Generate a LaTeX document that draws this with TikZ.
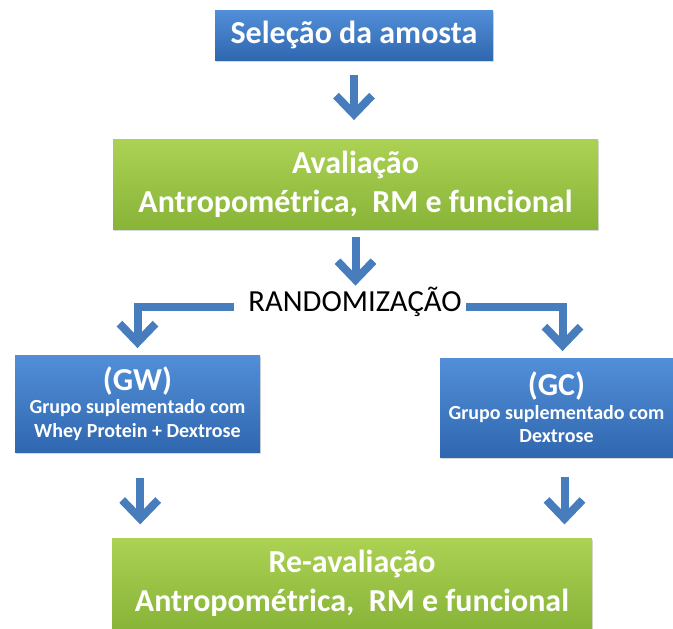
\documentclass[tikz,border=0pt]{standalone}
\usepackage{fontspec}
\setmainfont{Carlito}
\usetikzlibrary{arrows.meta,shadows}

\definecolor{azulclaro}{RGB}{82,143,216}
\definecolor{azulescuro}{RGB}{47,103,176}
\definecolor{verdeclaro}{RGB}{172,210,84}
\definecolor{verdeescuro}{RGB}{136,180,56}
\definecolor{azulseta}{RGB}{72,125,189}

\begin{document}
\begin{tikzpicture}[x=0.75pt, y=-0.75pt]
\tikzstyle{caixa} = [inner sep=0pt, align=center, text=white, font=\bfseries\fontsize{24}{29}\selectfont, drop shadow={opacity=.3, shadow xshift=1pt, shadow yshift=-1.5pt}]
\tikzstyle{azul} = [caixa, top color=azulclaro, bottom color=azulescuro]
\tikzstyle{verde} = [caixa, top color=verdeclaro, bottom color=verdeescuro]
\tikzstyle{grupo} = [azul, font=\bfseries\fontsize{15}{17.5}\selectfont]
\tikzstyle{seta} = [draw=azulseta, line width=6pt, line join=miter, -{Straight Barb[length=14pt, width=27pt]}]

\useasboundingbox (0,0) rectangle (673,628);

\node[azul, minimum width=208.5pt, minimum height=37.5pt] (sel) at (354,35) {Seleção da amosta};
\node[verde, minimum width=363.75pt, minimum height=67.5pt] (ava) at (355.5,184) {Avaliação\\Antropométrica,~~RM e funcional};
\node[inner sep=0pt, font=\fontsize{23}{28}\selectfont] (rand) at (355,302) {RANDOMIZAÇÃO};
\node[grupo, minimum width=183.75pt, minimum height=72.75pt] (gw) at (137.5,403.5) {{\fontsize{24}{30}\selectfont (GW)}\\Grupo suplementado com\\Whey Protein + Dextrose};
\node[grupo, minimum width=174.75pt, minimum height=74.25pt] (gc) at (556.5,407.5) {{\fontsize{24}{30}\selectfont (GC)}\\Grupo suplementado com\\Dextrose};
\node[verde, minimum width=360pt, minimum height=67.5pt] (re) at (352,583) {Re-avaliação\\Antropométrica,~~RM e funcional};

\draw[seta, shorten <=11pt, shorten >=14pt] (sel.south) -- (sel.south |- ava.north);
\draw[seta, shorten <=6pt, shorten >=1pt] (ava.south) -- (ava.south |- rand.north);
\draw[seta, shorten <=11pt, shorten >=5pt] ([yshift=-3.75pt]rand.west) -| (gw.north);
\draw[seta, shorten <=3pt, shorten >=5pt] ([yshift=-3.75pt]rand.east) -| ([xshift=4.5pt]gc.north);
\draw[seta, shorten <=19.5pt, shorten >=10pt] ([xshift=2pt]gw.south) -- ([xshift=2pt]gw.south |- re.north);
\draw[seta, shorten <=15pt, shorten >=10pt] ([xshift=6pt]gc.south) -- ([xshift=6pt]gc.south |- re.north);
\end{tikzpicture}
\end{document}
